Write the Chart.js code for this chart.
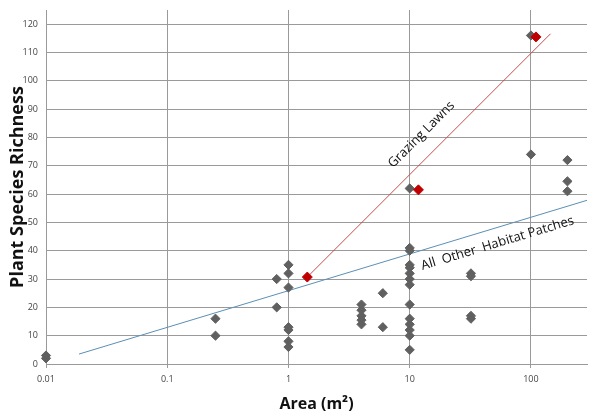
<!DOCTYPE html>
<html>
<head>
<meta charset="utf-8">
<script src="https://cdn.jsdelivr.net/npm/chart.js@4"></script>
<style>
  html, body { margin: 0; padding: 0; background: #fff; }
  #wrap { width: 593px; height: 415px; }
</style>
</head>
<body>
<div id="wrap"><canvas id="speciesChart" width="593" height="415"></canvas></div>
<script>
// habitat patches (grey diamonds)
var otherArea = [0.01, 0.01, 0.25, 0.25, 0.8, 0.8,
    1, 1, 1, 1, 1, 1, 1,
    4, 4, 4, 4, 4, 6, 6,
    10, 10, 10, 10, 10, 10, 10, 10, 10, 10, 10, 10, 10, 10,
    32, 32, 32, 32, 100, 100, 200, 200, 200];
var otherRichness = [2, 3, 16, 10, 30, 20,
    35, 32, 27, 13, 12, 8, 6,
    21, 19, 17, 15.5, 14, 25, 13,
    62, 41, 40, 35, 34, 32, 30, 28, 21, 16, 14, 12, 10, 5,
    32, 31, 17, 16, 116, 74, 72, 64.5, 61];

// grazing lawns (red diamonds)
var lawnArea = [1.43, 11.8, 110];
var lawnRichness = [30.7, 61.5, 115.5];

// trend lines (end points)
var lawnFitArea = [1.43, 145];
var lawnFitRichness = [30.7, 116.6];
var otherFitArea = [0.0187, 290];
var otherFitRichness = [3.5, 57.8];

var xTicks = [0.01, 0.1, 1, 10, 100];

function pairs(xs, ys) {
    return xs.map(function (v, i) { return { x: v, y: ys[i] }; });
}

// text along the fitted lines
var trendLabels = [
    { text: 'Grazing Lawns', at: [12.5, 81], lineX: lawnFitArea, lineY: lawnFitRichness },
    { text: 'All  Other  Habitat Patches', at: [53, 42.6], lineX: otherFitArea, lineY: otherFitRichness }
];

var trendLabelPlugin = {
    id: 'trendLabels',
    afterDatasetsDraw: function (chart) {
        var ctx = chart.ctx;
        var xs = chart.scales.x, ys = chart.scales.y;
        trendLabels.forEach(function (l) {
            var x0 = xs.getPixelForValue(l.lineX[0]), y0 = ys.getPixelForValue(l.lineY[0]);
            var x1 = xs.getPixelForValue(l.lineX[1]), y1 = ys.getPixelForValue(l.lineY[1]);
            var angle = Math.atan2(y1 - y0, x1 - x0);
            ctx.save();
            ctx.translate(xs.getPixelForValue(l.at[0]), ys.getPixelForValue(l.at[1]));
            ctx.rotate(angle);
            ctx.font = '13px "Open Sans", sans-serif';
            ctx.fillStyle = '#111';
            ctx.textAlign = 'center';
            ctx.textBaseline = 'middle';
            ctx.fillText(l.text, 0, 0);
            ctx.restore();
        });
    }
};

new Chart('speciesChart', {
    type: 'scatter',
    data: {
        datasets: [{
            label: 'Grazing Lawns',
            data: pairs(lawnArea, lawnRichness),
            pointStyle: 'rectRot',
            pointRadius: 5,
            backgroundColor: '#c00000',
            borderColor: '#c00000',
            clip: false
        }, {
            label: 'Other',
            data: pairs(otherArea, otherRichness),
            pointStyle: 'rectRot',
            pointRadius: 4.6,
            backgroundColor: '#606060',
            borderColor: '#606060',
            clip: false
        }, {
            label: 'Lawn fit',
            data: pairs(lawnFitArea, lawnFitRichness),
            showLine: true,
            pointRadius: 0,
            borderColor: '#c0504d',
            backgroundColor: '#c0504d',
            borderWidth: 1
        }, {
            label: 'Other fit',
            data: pairs(otherFitArea, otherFitRichness),
            showLine: true,
            pointRadius: 0,
            borderColor: '#5b8fb5',
            backgroundColor: '#5b8fb5',
            borderWidth: 1
        }]
    },
    options: {
        responsive: false,
        animation: false,
        devicePixelRatio: 1,
        layout: { padding: { top: 10, right: 0, left: 0, bottom: 1 } },
        plugins: {
            legend: { display: false },
            tooltip: { enabled: false }
        },
        scales: {
            x: {
                type: 'logarithmic',
                min: 0.01,
                max: 290,
                afterBuildTicks: function (axis) {
                    axis.ticks = xTicks.map(function (v) { return { value: v }; });
                },
                ticks: {
                    color: '#444',
                    font: { family: 'Open Sans', size: 9 },
                    callback: function (v) { return String(v); },
                    maxRotation: 0,
                    padding: 6
                },
                grid: { color: '#9a9a9a', tickLength: 4 },
                border: { color: '#9a9a9a' },
                title: {
                    display: true,
                    text: 'Area (m²)',
                    color: '#111',
                    font: { family: 'Open Sans', size: 16, weight: 'bold' },
                    padding: { top: 4, bottom: 0 }
                }
            },
            y: {
                min: 0,
                max: 125,
                ticks: {
                    stepSize: 10,
                    color: '#444',
                    font: { family: 'Open Sans', size: 9 },
                    padding: 8
                },
                afterBuildTicks: function (axis) {
                    axis.ticks = axis.ticks.filter(function (t) { return t.value <= 120; });
                },
                afterFit: function (axis) {
                    axis.width = 46;
                    axis.paddingTop = 0;
                },
                grid: { color: '#9a9a9a', drawTicks: false },
                border: { color: '#9a9a9a' },
                title: {
                    display: true,
                    text: 'Plant Species Richness',
                    color: '#111',
                    font: { family: 'Open Sans', size: 18, weight: 'bold' },
                    padding: { top: 7, bottom: 0 }
                }
            }
        }
    },
    plugins: [trendLabelPlugin]
});
</script>
</body>
</html>
